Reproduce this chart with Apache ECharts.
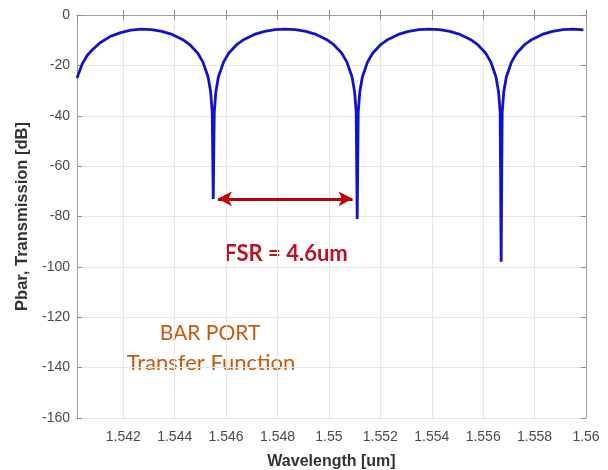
<!DOCTYPE html>
<html>
<head>
<meta charset="utf-8">
<script src="https://cdn.jsdelivr.net/npm/echarts@6/dist/echarts.min.js"></script>
<style>
  html, body { margin: 0; padding: 0; background: #fff; }
  #chart { width: 608px; height: 470px; }
</style>
</head>
<body>
<div id="chart"></div>
<script>
// wavelength [um] and bar-port transmission [dB]
const wavelength = [
  1.5402, 1.5404, 1.5406, 1.5408, 1.5411, 1.5415, 1.5419, 1.5423, 1.5427,
  1.5431, 1.5435, 1.5439, 1.5443, 1.5446, 1.5449, 1.5451, 1.5453, 1.5454, 1.54546,
  1.5455,
  1.54554, 1.5456, 1.5457, 1.5459, 1.5461, 1.5464, 1.5467, 1.5471, 1.5475, 1.5479, 1.5483,
  1.5487, 1.5491, 1.5495, 1.5499, 1.5502, 1.5505, 1.5507, 1.5509, 1.5510, 1.55106,
  1.5511,
  1.55114, 1.5512, 1.5513, 1.5515, 1.5517, 1.5520, 1.5523, 1.5527, 1.5531, 1.5535, 1.5539,
  1.5543, 1.5547, 1.5551, 1.5555, 1.5558, 1.5561, 1.5563, 1.5565, 1.5566, 1.55666,
  1.5567,
  1.55674, 1.5568, 1.5569, 1.5571, 1.5573, 1.5576, 1.5579, 1.5583, 1.5587, 1.5591, 1.5595, 1.5599
];
const transmission = [
  -25, -19.5, -16, -13.8, -11, -8.5, -7, -6, -5.6,
  -5.8, -6.5, -7.7, -9.7, -11.9, -15.2, -18.7, -24.6, -30.6, -38.6,
  -73,
  -38.6, -30.6, -24.6, -18.7, -15.2, -11.9, -9.7, -7.7, -6.5, -5.8, -5.6,
  -5.8, -6.5, -7.7, -9.7, -11.9, -15.2, -18.7, -24.6, -30.6, -38.6,
  -81,
  -38.6, -30.6, -24.6, -18.7, -15.2, -11.9, -9.7, -7.7, -6.5, -5.8, -5.6,
  -5.8, -6.5, -7.7, -9.7, -11.9, -15.2, -18.7, -24.6, -30.6, -38.6,
  -98,
  -38.6, -30.6, -24.6, -18.7, -15.2, -11.9, -9.7, -7.7, -6.5, -5.8, -5.6, -5.9
];
// FSR arrow ends (wavelength) and level (dB)
const fsrArrow = [1.54568, 1.55092];
const fsrLevel = -73;

const xMin = 1.5402, xMax = 1.56;
const yMin = -160, yMax = 0, yStep = 20;

const chart = echarts.init(document.getElementById('chart'), null, { renderer: 'canvas' });

const frame = { show: true, lineStyle: { color: '#a0a0a0', width: 1 } };
const inTicks = { show: true, inside: true, length: 5, lineStyle: { color: '#8c8c8c' } };
const gridLine = { show: true, lineStyle: { color: '#e6e6e6', width: 1 } };
const noteFont = 'Lato, "Open Sans", sans-serif';

chart.setOption({
  backgroundColor: '#fff',
  animation: false,
  textStyle: { fontFamily: 'Liberation Sans, Arial, sans-serif' },
  grid: { left: 77, right: 22, top: 15, bottom: 52, outerBoundsMode: 'none', containLabel: false },
  xAxis: [
    {
      type: 'value', min: xMin, max: xMax, splitNumber: 10,
      axisLine: frame, axisTick: inTicks, splitLine: gridLine,
      axisLabel: {
        color: '#4a4a4a', fontSize: 14, margin: 12, showMinLabel: false,
        formatter: v => String(+v.toFixed(3))
      },
      name: 'Wavelength [um]', nameLocation: 'middle', nameGap: 36,
      nameTextStyle: { color: '#333', fontSize: 16, fontWeight: 'bold' }
    },
    {
      type: 'value', position: 'top', min: xMin, max: xMax, splitNumber: 10,
      axisLine: frame, axisTick: inTicks, axisLabel: { show: false }, splitLine: { show: false }
    }
  ],
  yAxis: [
    {
      type: 'value', min: yMin, max: yMax, interval: yStep,
      axisLine: frame, axisTick: inTicks, splitLine: gridLine,
      axisLabel: { color: '#4a4a4a', fontSize: 14, margin: 7 },
      name: 'Pbar, Transmission [dB]', nameLocation: 'middle', nameGap: 42,
      nameTextStyle: { color: '#333', fontSize: 16.5, fontWeight: 'bold' }
    },
    {
      type: 'value', position: 'right', min: yMin, max: yMax, interval: yStep,
      axisLine: frame, axisTick: inTicks, axisLabel: { show: false }, splitLine: { show: false }
    }
  ],
  series: [
    {
      type: 'line',
      data: wavelength.map((w, i) => [w, transmission[i]]),
      showSymbol: false,
      lineStyle: { color: '#1212cc', width: 2.8 },
      markLine: {
        silent: true,
        symbol: ['arrow', 'arrow'],
        symbolSize: [11, 14],
        label: { show: false },
        lineStyle: { color: '#c00000', width: 3, type: 'solid' },
        data: [[
          { coord: [fsrArrow[0], fsrLevel] },
          { coord: [fsrArrow[1], fsrLevel] }
        ]]
      }
    }
  ],
  graphic: [
    {
      type: 'text', x: 286, y: 254,
      style: { text: 'FSR = 4.6um', fill: '#bf1020', font: 'bold 22px ' + noteFont, align: 'center', verticalAlign: 'middle' }
    },
    {
      type: 'text', x: 210, y: 333,
      style: { text: 'BAR PORT', fill: '#c55a11', font: '21px ' + noteFont, align: 'center', verticalAlign: 'middle' }
    },
    {
      type: 'text', x: 211, y: 363,
      style: { text: 'Transfer Function', fill: '#c55a11', font: '22px ' + noteFont, align: 'center', verticalAlign: 'middle' }
    }
  ]
});
</script>
</body>
</html>
